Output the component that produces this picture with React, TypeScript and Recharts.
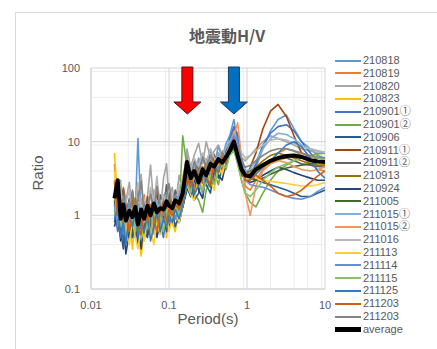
import React from 'react';
import { LineChart, Line, XAxis, YAxis, CartesianGrid, ReferenceDot } from 'recharts';

const periods = [0.02,0.022,0.024,0.026,0.028,0.031,0.034,0.037,0.04,0.044,0.048,0.053,0.058,0.064,0.07,0.077,0.085,0.093,0.1,0.11,0.12,0.135,0.15,0.17,0.19,0.21,0.24,0.27,0.3,0.34,0.38,0.43,0.48,0.54,0.6,0.68,0.76,0.85,0.95,1.1,1.3,1.6,2,2.5,3.2,4,5,6.5,8,10];

const xTicks = [0.01, 0.1, 1, 10];
const yTicks = [0.1, 1, 10, 100];
const xMinor = [0.02,0.03,0.04,0.05,0.06,0.07,0.08,0.09,0.2,0.3,0.4,0.5,0.6,0.7,0.8,0.9,2,3,4,5,6,7,8,9];
const yMinor = [0.2,0.3,0.4,0.5,0.6,0.7,0.8,0.9,2,3,4,5,6,7,8,9,20,30,40,50,60,70,80,90];

const s210818 = [1.5,0.7,1.9,1.1,0.6,1.4,2.1,1.2,11,0.9,0.6,1.3,0.8,1.8,0.9,0.6,1.6,2.3,1.0,1.5,0.9,2.1,1.3, 2.6,4.2,3.0,6.0,3.6,5.0,7.8,4.6,8.8,6.0,9.5,12, 20,9,5,3.5,3.0,4.5,8,14,20,23,15,10,8,6.5,6];
const s210819 = [5,1.1,0.7,2.4,1.6,0.8,0.55,1.7,2.6,1.0,1.9,0.7,1.2,2.2,1.4,0.8,1.1,2.5,1.3,0.9,2.0,1.6,3.2, 6.5,3.0,2.4,4.8,3.3,2.5,5.2,6.8,4.0,7.2,5.5,9.5, 15,13,6,2.5,2.2,3.0,4.2,5.5,7.0,8.0,7.5,6.5,5.0,4.2,4.0];
const s210820 = [2.0,1.2,3.0,0.9,1.6,2.8,1.1,0.7,1.5,3.6,1.0,1.8,4.8,1.3,2.1,1.0,3.2,5.0,1.6,2.4,1.3,3.5,2.2, 8.0,4.5,6.5,9.5,5.0,10,6.0,7.5,9.0,6.5,8.5,10, 11,8,6,5.5,6.5,8,10,12,11,10,9,8,7.5,7,7];
const s210823 = [7,1.5,0.8,1.8,0.5,0.9,0.35,1.0,0.6,0.28,0.7,1.2,0.5,0.8,1.3,0.6,0.9,0.5,1.1,0.8,0.6,1.2,1.5, 3.0,2.0,4.0,2.2,1.8,4.6,3.0,3.6,5.6,4.5,6.5,8.5, 11,7,4,3.0,3.2,3.8,4.5,5.0,5.5,6.0,6.2,6.0,5.6,5.2,5.0];
const s210901a = [1.2,0.6,1.0,0.45,1.4,0.8,0.5,1.1,0.7,1.6,0.55,0.9,1.3,0.6,1.0,0.75,0.5,1.2,0.9,1.5,1.0,0.8,1.4, 2.5,1.8,3.0,2.4,4.2,3.0,3.5,5.0,4.2,6.5,5.5,11, 16,12,6,4,3.5,5,9,13,16,17,14,10,7,5.5,5.2];
const s210901b = [2.0,1.1,0.6,0.9,1.3,0.5,0.8,0.6,1.1,0.7,0.45,1.0,0.8,0.6,1.2,0.9,0.7,1.4,0.8,1.1,1.6,1.2,12, 4.5,3.0,2.0,1.6,1.1,2.2,3.0,3.8,2.6,5.0,4.2,7.5, 8,5,3,2.0,1.5,1.3,2.0,3.0,4.0,4.8,5.5,6.0,6.5,6.8,7.0];
const s210906 = [0.8,1.4,0.6,0.35,0.9,1.2,0.5,0.8,0.4,1.0,0.6,0.5,0.9,1.1,0.55,0.7,1.0,0.6,0.9,1.2,0.7,1.0,1.3, 2.2,3.0,1.6,2.0,3.5,2.6,2.0,4.0,3.2,3.8,5.5,7, 9,7,5,4,3.5,3.0,2.8,2.6,2.4,2.2,2.0,1.8,1.8,2.0,2.2];
const s210911a = [1.3,2.4,1.0,1.6,0.8,1.2,2.0,0.9,1.4,1.1,0.7,1.8,1.0,1.3,2.1,0.9,1.5,1.2,2.0,1.1,1.7,1.4,2.0, 4.0,2.8,5.0,3.4,2.6,5.8,4.0,6.5,4.5,5.2,7.8,8.5, 9,6,3.5,3.2,4.5,7,15,26,32,22,12,7,6.2,6,6];
const s210911b = [1.8,0.9,1.5,2.3,1.0,1.7,0.8,1.2,2.4,1.1,1.6,0.9,2.2,1.3,1.0,1.9,1.2,2.6,1.4,1.1,2.2,1.6,2.4, 4.5,3.2,5.5,4.0,6.8,4.5,5.8,3.8,7.0,5.8,7.5,8.0, 9,7,5,4,4.0,4.5,5.0,5.5,6.0,6.0,5.5,5.0,4.8,4.6,4.5];
const s210913 = [3.0,1.0,1.8,0.7,1.3,0.9,1.6,0.6,1.0,1.4,0.8,1.1,0.65,1.5,1.0,0.7,1.3,0.9,1.6,1.1,0.9,1.5,1.8, 3.5,2.4,2.0,4.2,3.0,5.0,3.5,2.8,5.5,4.2,6.0,8.0, 10,8,4.5,3.5,3.8,4.5,5.5,6.5,7.0,6.5,6.0,5.5,5.0,4.8,4.8];
const s210924 = [0.7,1.1,0.45,0.8,0.3,0.6,1.0,0.5,0.75,0.35,0.9,0.55,0.7,1.0,0.5,0.8,0.6,1.0,0.7,0.9,1.2,0.8,1.3, 2.4,1.8,3.2,2.2,1.7,3.8,2.8,4.5,3.5,3.0,5.2,7.5, 9,6.5,4,3,2.8,3.0,3.5,4.0,4.5,4.2,3.8,3.5,3.2,3.0,3.0];
const s211005 = [1.6,0.7,1.1,0.55,0.9,1.2,0.6,0.9,0.5,1.0,0.8,0.6,1.1,0.7,0.9,1.2,0.75,1.0,1.3,0.9,1.2,1.5,1.6, 3.0,2.2,3.6,2.6,4.2,3.2,2.4,4.6,3.8,5.4,4.6,7.0, 8,6,4.2,3.5,3.2,3.0,3.2,3.6,4.0,4.4,4.6,4.8,5.0,5.2,5.3];
const s211015a = [1.1,1.8,0.9,1.3,0.7,1.5,1.0,0.6,1.2,1.7,0.8,1.1,1.4,0.9,1.6,1.0,1.3,2.0,1.1,1.5,1.2,1.8,2.4, 4.0,3.0,4.5,5.5,3.6,4.0,6.2,4.8,7.0,6.0,8.5,10, 13,9,5.5,4,4.2,5.5,8,11,13,12.5,11,9,8,7.5,7];
const s211015b = [2.2,0.9,1.4,1.0,0.6,1.2,0.8,1.5,0.9,0.6,1.1,0.8,1.3,0.55,0.9,1.2,0.7,1.0,1.4,0.9,1.5,1.1,1.7, 3.2,2.3,4.0,3.0,2.2,4.8,3.5,5.5,4.4,3.8,6.5,9, 12,18,6,2.0,1.0,2.5,4.0,5.0,5.5,5.2,4.6,4.2,4.0,4.2,4.5];
const s211016 = [1.9,1.2,2.6,1.0,1.5,2.2,0.9,1.4,2.8,1.2,1.7,1.1,2.4,1.5,3.4,1.3,1.9,1.4,2.6,1.8,1.4,2.5,3.0, 5.0,4.0,6.0,4.6,7.0,5.2,8.0,6.0,5.5,7.5,6.5,9.0, 10,9,7,6,6.5,7.5,9,10.5,11,10.5,9.5,8.5,8,7.5,7.2];
const s211113 = [4.0,1.3,0.8,1.6,0.6,0.4,0.9,0.5,0.35,0.7,0.45,0.9,0.6,0.4,0.8,0.55,0.7,1.0,0.6,0.9,1.1,0.8,1.4, 2.6,1.9,1.6,3.3,2.4,4.0,2.9,2.2,4.8,3.6,5.6,7.5, 9,6,4.5,3.8,3.5,3.2,3.0,2.9,2.8,2.7,2.6,2.5,2.5,2.6,2.8];
const s211114 = [1.4,0.7,1.2,0.55,1.0,1.5,0.7,1.1,0.6,0.9,1.3,0.65,1.0,0.8,1.2,0.7,1.4,0.9,1.0,1.3,0.9,1.2,1.6, 3.0,2.2,3.8,2.8,2.0,4.4,3.4,5.2,4.0,6.2,5.0,9.0, 12,10,5.5,3.0,2.6,2.5,2.4,2.2,2.0,1.8,1.7,1.65,1.8,2.1,2.4];
const s211115 = [1.0,1.5,0.7,1.1,0.5,0.8,1.2,0.6,0.9,0.5,1.0,0.7,0.6,1.1,0.8,1.0,0.6,1.2,0.9,1.1,1.4,1.0,1.5, 2.8,2.0,3.4,2.5,2.2,2.8,3.5,2.6,4.0,4.8,4.4,6.5, 7.5,5,3,2.0,1.8,2.2,3.0,3.8,4.5,5.0,5.5,6.0,6.2,6.0,5.8];
const s211125 = [0.9,1.3,0.5,0.8,0.4,1.0,0.7,1.2,0.5,0.8,0.6,1.0,0.45,0.7,1.1,0.6,0.9,0.7,1.0,0.8,1.2,0.9,1.4, 2.6,3.4,1.9,2.6,4.2,3.1,2.5,4.8,3.8,5.8,5.0,8.5, 10.5,8,5,3.5,3.2,3.6,4.5,5.5,7,9,10,8.5,6,4,3.2];
const s211203a = [2.8,1.0,1.6,0.8,1.3,0.6,1.1,1.7,0.7,0.55,1.2,0.8,1.4,0.9,0.6,1.1,1.5,0.8,1.2,1.0,1.4,1.2,1.6, 3.2,2.4,3.8,2.8,4.6,3.3,2.6,5.5,4.0,6.4,5.3,8.5, 11,8,4.5,3.0,3.0,3.5,3.0,2.5,2.0,1.8,1.9,2.2,2.8,3.4,4.0];
const s211203b = [1.7,2.6,1.0,1.8,1.3,0.8,2.2,1.1,1.6,2.9,1.0,1.4,1.9,1.1,2.5,1.4,1.0,1.8,2.7,1.3,1.9,1.5,2.6, 4.2,3.2,5.2,3.8,6.0,4.4,6.6,5.0,4.2,7.2,5.8,9.0, 10,7.5,5.5,4.5,4.8,5.5,6.5,7.5,8.0,8.0,7.5,7.0,6.5,6.2,6.0];
const average = [1.7,3.0,0.9,1.4,0.85,1.15,0.95,1.3,0.75,1.2,0.9,1.35,1.0,1.45,1.1,1.25,1.2,1.55,1.35,1.25,1.6,1.45,2.0, 5.3,3.2,4.0,2.8,4.2,3.5,5.0,4.6,5.8,5.2,6.2,7.5, 10,6.4,4.2,3.5,3.4,4.2,4.8,5.5,6.0,6.4,6.5,6.2,5.6,5.4,5.3];

const seriesNames = ['210818','210819','210820','210823','210901①','210901②','210906','210911①','210911②','210913','210924','211005','211015①','211015②','211016','211113','211114','211115','211125','211203','211203'];
const seriesColors = ['#5B9BD5','#ED7D31','#A5A5A5','#FFC000','#4472C4','#70AD47','#255E91','#9E480E','#636363','#997300','#264478','#43682B','#7CAFDD','#F1975A','#B7B7B7','#FFCD33','#698ED0','#8CC168','#327DC2','#D26012','#848484'];
const seriesValues = [s210818,s210819,s210820,s210823,s210901a,s210901b,s210906,s210911a,s210911b,s210913,s210924,s211005,s211015a,s211015b,s211016,s211113,s211114,s211115,s211125,s211203a,s211203b];

const arrows = [
  { p: 0.172, fill: '#FF0000', stroke: '#5a1010' },
  { p: 0.68, fill: '#0070C0', stroke: '#1F3864' },
];

const data = periods.map((p, i) => {
  const row: Record<string, number> = { p, avg: average[i] };
  seriesValues.forEach((arr, k) => { row['s' + k] = arr[i]; });
  return row;
});

const FONT = '"Liberation Sans", "Noto Sans CJK JP", Arial, sans-serif';
const TEXT = '#595959';

const makeArrow = (fill: string, stroke: string) => (props: any) => {
  const { cx, cy } = props;
  const top = cy - 1;
  const hs = cy + 34;
  const tip = cy + 46;
  const pts = [
    [cx - 5.5, top], [cx + 5.5, top], [cx + 5.5, hs], [cx + 13.5, hs],
    [cx, tip], [cx - 13.5, hs], [cx - 5.5, hs],
  ].map(q => q.join(',')).join(' ');
  return <polygon points={pts} fill={fill} stroke={stroke} strokeWidth={1} />;
};

const fmt = (v: number) => String(v);

export default function App() {
  const legendItems = [
    ...seriesNames.map((n, i) => ({ name: n, color: seriesColors[i], w: 2 })),
    { name: 'average', color: '#000000', w: 5 },
  ];
  return (
    <div style={{ position: 'absolute', left: 0, top: 0, width: 437, height: 349, overflow: 'hidden', background: '#fff', fontFamily: FONT }}>
      <div style={{ position: 'absolute', left: 15, top: 12, width: 430, height: 345, borderLeft: '1px solid #D9D9D9', borderTop: '1px solid #D9D9D9' }} />
      <LineChart width={437} height={349} data={data} margin={{ top: 68, right: 112, bottom: 30, left: 31 }} style={{ position: 'absolute', left: 0, top: 0 }}>
        <CartesianGrid stroke="#ECECEC" horizontalValues={yMinor} verticalValues={xMinor} />
        <CartesianGrid stroke="#D4D4D4" horizontalValues={yTicks} verticalValues={xTicks} />
        <XAxis dataKey="p" type="number" scale="log" domain={[0.01, 10]} ticks={xTicks} allowDataOverflow
          tickFormatter={fmt} tickLine={false} tickSize={0} tickMargin={12} height={30}
          axisLine={{ stroke: '#D4D4D4' }} tick={{ fill: TEXT, fontSize: 11, fontFamily: FONT }} />
        <YAxis type="number" scale="log" domain={[0.1, 100]} ticks={yTicks} allowDataOverflow
          tickFormatter={fmt} tickLine={false} tickSize={0} tickMargin={11} width={60}
          axisLine={{ stroke: '#D4D4D4' }} tick={{ fill: TEXT, fontSize: 11, fontFamily: FONT }} />
        {seriesValues.map((_, k) => (
          <Line key={k} dataKey={'s' + k} name={seriesNames[k]} stroke={seriesColors[k]} strokeWidth={1.6}
            dot={false} isAnimationActive={false} type="linear" strokeLinejoin="round" />
        ))}
        <Line dataKey="avg" name="average" stroke="#000" strokeWidth={4} dot={false} isAnimationActive={false} type="linear" strokeLinejoin="round" />
        {arrows.map((a, i) => (
          <ReferenceDot key={i} x={a.p} y={100} r={1} ifOverflow="visible" shape={makeArrow(a.fill, a.stroke)} />
        ))}
      </LineChart>
      <div style={{ position: 'absolute', left: 127, top: 25, width: 200, textAlign: 'center', fontSize: 16, fontWeight: 'bold', color: TEXT, fontFamily: '"Noto Sans CJK JP", sans-serif', lineHeight: '20px' }}>地震動H/V</div>
      <div style={{ position: 'absolute', left: 37, top: 173, transform: 'translate(-50%, -50%) rotate(-90deg)', fontSize: 15, color: TEXT, whiteSpace: 'nowrap' }}>Ratio</div>
      <div style={{ position: 'absolute', left: 208, top: 318, transform: 'translate(-50%, -50%)', fontSize: 15, color: TEXT, whiteSpace: 'nowrap' }}>Period(s)</div>
      <div style={{ position: 'absolute', left: 335, top: 54 }}>
        {legendItems.map((it, i) => (
          <div key={i} style={{ position: 'absolute', left: 0, top: i * 12.8, height: 13, width: 100, display: 'flex', alignItems: 'center' }}>
            <div style={{ width: 26, height: it.w, background: it.color, marginRight: 2 }} />
            <span style={{ fontSize: 11, color: TEXT, lineHeight: '13px', whiteSpace: 'nowrap' }}>{it.name}</span>
          </div>
        ))}
      </div>
    </div>
  );
}
